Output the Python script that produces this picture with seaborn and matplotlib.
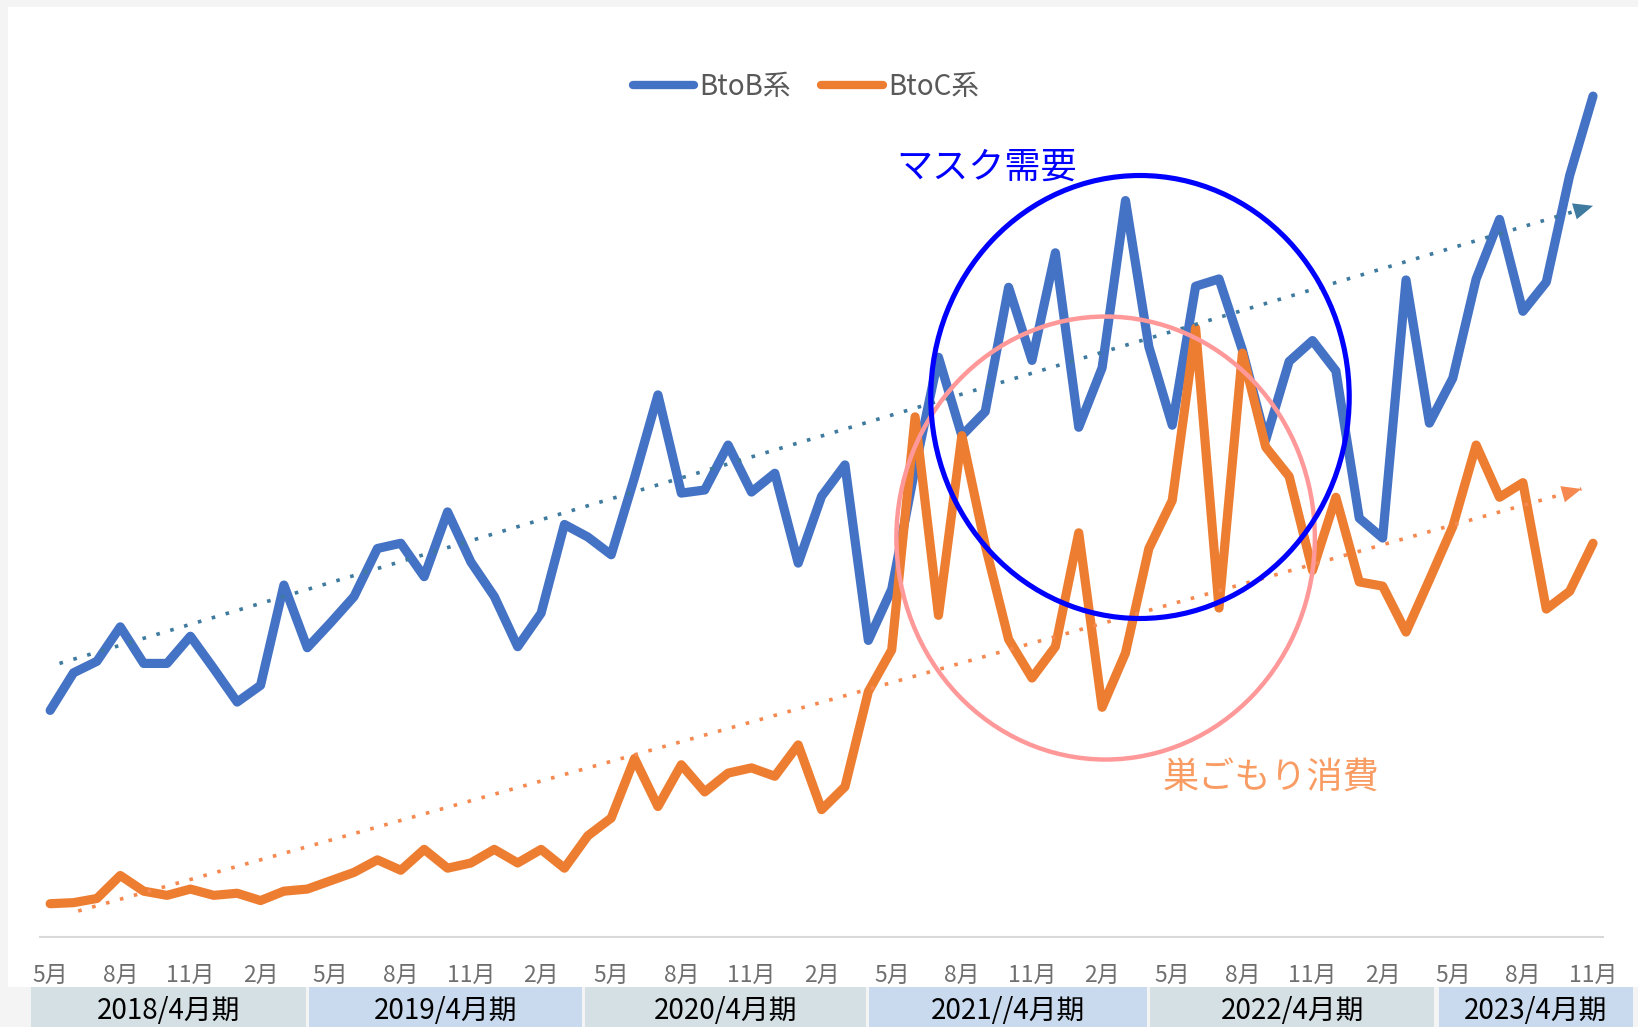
import numpy as np
import pandas as pd
import matplotlib
matplotlib.use("Agg")
import matplotlib.pyplot as plt
import seaborn as sns
from matplotlib.patches import Ellipse, Rectangle
from matplotlib.lines import Line2D
from matplotlib import transforms

# ---------------- data ----------------
btob = [21.7, 25.3, 26.4, 29.7, 26.2, 26.2, 28.8, 25.7, 22.5, 24.1,
        33.7, 27.7, 30.1, 32.6, 37.2, 37.7, 34.5, 40.7, 35.9, 32.6,
        27.8, 31.0, 39.5, 38.3, 36.6, 44.0, 51.9, 42.5, 42.8, 47.1,
        42.6, 44.4, 35.8, 42.2, 45.2, 28.4, 33.3, 44.9, 55.5, 48.0,
        50.3, 62.2, 55.2, 65.5, 48.8, 54.5, 70.5, 56.5, 49.0, 62.3,
        63.0, 56.2, 47.6, 55.1, 57.1, 54.2, 40.1, 38.2, 62.9, 49.2,
        53.5, 63.0, 68.7, 59.9, 62.7, 72.9, 80.5]
btoc = [3.2, 3.3, 3.7, 5.9, 4.4, 4.0, 4.6, 4.0, 4.2, 3.5,
        4.4, 4.6, 5.4, 6.2, 7.4, 6.4, 8.4, 6.6, 7.1, 8.4,
        7.1, 8.4, 6.6, 9.7, 11.4, 17.1, 12.5, 16.5, 13.9, 15.7,
        16.2, 15.4, 18.4, 12.2, 14.4, 23.5, 27.5, 49.8, 30.8, 48.0,
        37.5, 28.5, 24.8, 27.8, 38.7, 22.0, 27.2, 37.2, 41.8, 58.3,
        31.5, 55.9, 46.9, 44.1, 35.1, 42.1, 34.0, 33.6, 29.2, 34.2,
        39.3, 47.1, 42.1, 43.5, 31.4, 33.1, 37.7]
series_names = ["BtoB系", "BtoC系"]
tick_labels = ["5月", "8月", "11月", "2月"] * 5 + ["5月", "8月", "11月"]
fiscal_labels = ["2018/4月期", "2019/4月期", "2020/4月期",
                 "2021//4月期", "2022/4月期", "2023/4月期"]
# trend arrows (month index, value)
trend_btob_x = [0.4, 66.0]
trend_btob_y = [26.2, 70.0]
trend_btoc_x = [1.2, 65.5]
trend_btoc_y = [2.5, 42.9]
annot_labels = ["マスク需要", "巣ごもり消費"]

# ---------------- layout ----------------
fiscal_start = [-0.8, 11.08, 22.88, 35.03, 47.05, 59.39]
fiscal_end = [10.95, 22.75, 34.9, 46.92, 59.21, 67.7]
fiscal_colors = ["#d5e0e5", "#c9daef"] * 3

sns.set_theme(style="white")
plt.rcParams["font.family"] = ["Noto Sans CJK JP", "DejaVu Sans"]

fig = plt.figure(figsize=(16.38, 10.27), dpi=100, facecolor="#f4f4f4")
fig.add_artist(Rectangle((0.005, 0.0387), 0.995, 0.954, transform=fig.transFigure,
                         facecolor="white", edgecolor="none", zorder=-10))

ax = fig.add_axes([0.02423, 0.0875, 0.9547, 0.882])
ax.set_facecolor("none")

n = len(btob)
df = pd.DataFrame({
    "month": np.tile(np.arange(n), 2),
    "value": btob + btoc,
    "series": np.repeat(series_names, n),
})
colors = ["#4472c4", "#ed7d31"]
sns.lineplot(data=df, x="month", y="value", hue="series", palette=colors,
             linewidth=6.6, ax=ax, legend=False,
             solid_joinstyle="round", solid_capstyle="round")

# trend lines with arrow heads
for tx, ty, c in [(trend_btob_x, trend_btob_y, "#3f7a9f"),
                  (trend_btoc_x, trend_btoc_y, "#f5894f")]:
    ax.plot(tx, ty, color=c, lw=2.6, linestyle=(0, (1, 3)),
            dash_capstyle="butt", zorder=5)
    slope = (ty[1] - ty[0]) / (tx[1] - tx[0])
    ax.annotate("", xy=(tx[1], ty[1]), xytext=(tx[1] - 1.0, ty[1] - slope * 1.0),
                arrowprops=dict(arrowstyle="-|>,head_length=0.7,head_width=0.3",
                                color=c, lw=0, shrinkA=0, shrinkB=0,
                                mutation_scale=20), zorder=6)

# ellipses
ax.add_patch(Ellipse((45.15, 38.2), 17.9, 42.4, fill=False,
                     edgecolor="#ff9999", lw=3.2, zorder=7))
ax.add_patch(Ellipse((46.62, 51.7), 17.9, 42.4, fill=False,
                     edgecolor="#0000ff", lw=3.7, zorder=8))
ax.text(36.2, 73.7, annot_labels[0], color="#0000ff", fontsize=26,
        ha="left", va="center", zorder=9)
ax.text(47.6, 15.2, annot_labels[1], color="#f99c63", fontsize=26,
        ha="left", va="center", zorder=9)

# axes formatting
ax.set_xlim(-0.447, 66.447)
ax.set_ylim(0, 86.7)
ax.set_xticks(range(0, n, 3))
ax.set_xticklabels(tick_labels, color="#6f6f6f", fontsize=16.5)
ax.tick_params(axis="x", length=0, pad=19)
ax.set_yticks([])
ax.set_xlabel("")
ax.set_ylabel("")
for s in ["top", "left", "right"]:
    ax.spines[s].set_visible(False)
ax.spines["bottom"].set_color("#d9d9d9")
ax.spines["bottom"].set_linewidth(1.5)

# fiscal-period header boxes
trans = transforms.blended_transform_factory(ax.transData, fig.transFigure)
for x0, x1, lab, fc in zip(fiscal_start, fiscal_end, fiscal_labels, fiscal_colors):
    r = Rectangle((x0, 0), x1 - x0, 0.0387, transform=trans, facecolor=fc,
                  edgecolor="none", clip_on=False)
    ax.add_artist(r)
    ax.text((x0 + x1) / 2, 0.0153, lab, transform=trans, ha="center", va="center",
            fontsize=20, color="black", clip_on=False)
ax.set_xlim(-0.447, 66.447)
ax.set_ylim(0, 86.7)

# legend
handles = [Line2D([0], [0], color=c, lw=6, solid_capstyle="round") for c in colors]
leg = fig.legend(handles, series_names, loc="center", bbox_to_anchor=(0.492, 0.9156),
                 ncol=2, frameon=False, fontsize=20, handlelength=2.2,
                 handletextpad=0.2, columnspacing=1.1)
for t in leg.get_texts():
    t.set_color("#595959")

fig.savefig("out.png", dpi=100, facecolor=fig.get_facecolor())
